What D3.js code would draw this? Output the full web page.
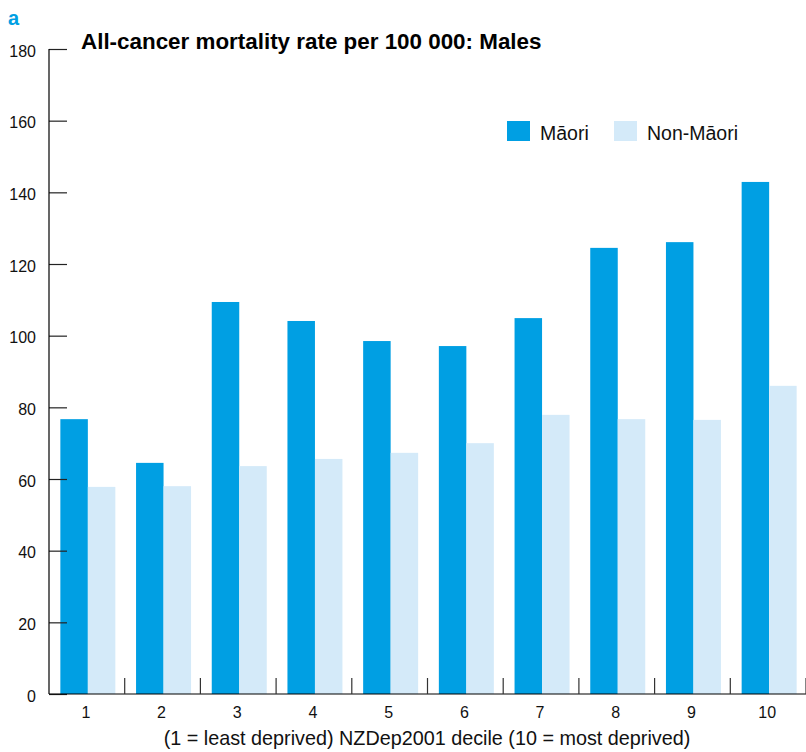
<!DOCTYPE html>
<html>
<head>
<meta charset="utf-8">
<script src="https://cdn.jsdelivr.net/npm/d3@7"></script>
<style>
  html, body { margin: 0; padding: 0; background: #fff; }
  svg { display: block; font-family: "Liberation Sans", Arial, sans-serif; }
</style>
</head>
<body>
<svg id="chart" width="806" height="752"></svg>
<script>
const deciles = ["1","2","3","4","5","6","7","8","9","10"];
const maori = [76.7, 64.5, 109.4, 104.1, 98.5, 97.1, 104.9, 124.5, 126.1, 142.9];
const nonMaori = [57.8, 58.0, 63.6, 65.6, 67.3, 70.0, 77.9, 76.7, 76.5, 86.0];
const seriesNames = ["Māori", "Non-Māori"];
const yTicks = [0, 20, 40, 60, 80, 100, 120, 140, 160, 180];

const colors = { "Māori": "#009fe3", "Non-Māori": "#d4eaf9" };

const svg = d3.select("#chart");
const mLeft = 49, mRight = 806, mTop = 49, mBottom = 694;

const x = d3.scaleBand().domain(deciles).range([mLeft, mRight]).paddingInner(0).paddingOuter(0);
const y = d3.scaleLinear().domain([0, 180]).range([mBottom, mTop]);
const x1 = d3.scaleBand().domain(seriesNames).range([0, 55]);

const rows = deciles.map((d, i) => ({ decile: d, values: [
  { key: "Māori", value: maori[i] },
  { key: "Non-Māori", value: nonMaori[i] }
]}));

// bars
const groups = svg.append("g").selectAll("g").data(rows).join("g")
  .attr("transform", d => `translate(${x(d.decile) + (x.bandwidth() - 55) / 2 + 1},0)`);
groups.selectAll("rect").data(d => d.values).join("rect")
  .attr("x", d => x1(d.key))
  .attr("width", x1.bandwidth())
  .attr("y", d => y(d.value))
  .attr("height", d => y(0) - y(d.value))
  .attr("fill", d => colors[d.key]);

// y axis (ticks point inward)
const yAxis = d3.axisRight(y).tickValues(yTicks).tickSize(18).tickFormat("");
const yg = svg.append("g").attr("transform", `translate(${mLeft},0)`).call(yAxis);
yg.select(".domain").remove();
yg.selectAll(".tick line").attr("stroke", "#222").attr("stroke-width", 1.2);
svg.append("line").attr("x1", mLeft).attr("x2", mLeft).attr("y1", mTop).attr("y2", mBottom)
  .attr("stroke", "#000").attr("stroke-width", 1.2);
svg.append("g").selectAll("text").data(yTicks).join("text")
  .attr("x", 36).attr("y", d => y(d) + 7.5)
  .attr("text-anchor", "end").attr("font-size", 16).attr("fill", "#111")
  .text(d => d);

// x axis: baseline + separator ticks pointing up
svg.append("line").attr("x1", mLeft).attr("x2", mRight).attr("y1", mBottom).attr("y2", mBottom)
  .attr("stroke", "#000").attr("stroke-width", 1.2);
svg.append("g").selectAll("line").data(deciles).join("line")
  .attr("x1", d => x(d) + x.bandwidth())
  .attr("x2", d => x(d) + x.bandwidth())
  .attr("y1", mBottom - 16).attr("y2", mBottom)
  .attr("stroke", "#333").attr("stroke-width", 1.2);
svg.append("g").selectAll("text").data(deciles).join("text")
  .attr("x", d => x(d) + x.bandwidth() / 2 - 1)
  .attr("y", 718).attr("text-anchor", "middle").attr("font-size", 16).attr("fill", "#111")
  .text(d => d);

svg.append("text").attr("x", 427).attr("y", 745).attr("text-anchor", "middle")
  .attr("font-size", 19.8).attr("fill", "#111")
  .text("(1 = least deprived) NZDep2001 decile (10 = most deprived)");

// title & panel letter
svg.append("text").attr("x", 8).attr("y", 25).attr("font-size", 20).attr("font-weight", "bold")
  .attr("fill", "#009fe3").text("a");
svg.append("text").attr("x", 81).attr("y", 49).attr("font-size", 22.4).attr("font-weight", "bold")
  .attr("fill", "#000").text("All-cancer mortality rate per 100 000: Males");

// legend
const legendX = [507, 614];
const lg = svg.append("g").selectAll("g").data(seriesNames).join("g")
  .attr("transform", (d, i) => `translate(${legendX[i]},121)`);
lg.append("rect").attr("width", 23).attr("height", 20).attr("fill", d => colors[d]);
lg.append("text").attr("x", 33).attr("y", 19).attr("font-size", 19.5).attr("fill", "#111").text(d => d);
</script>
</body>
</html>
